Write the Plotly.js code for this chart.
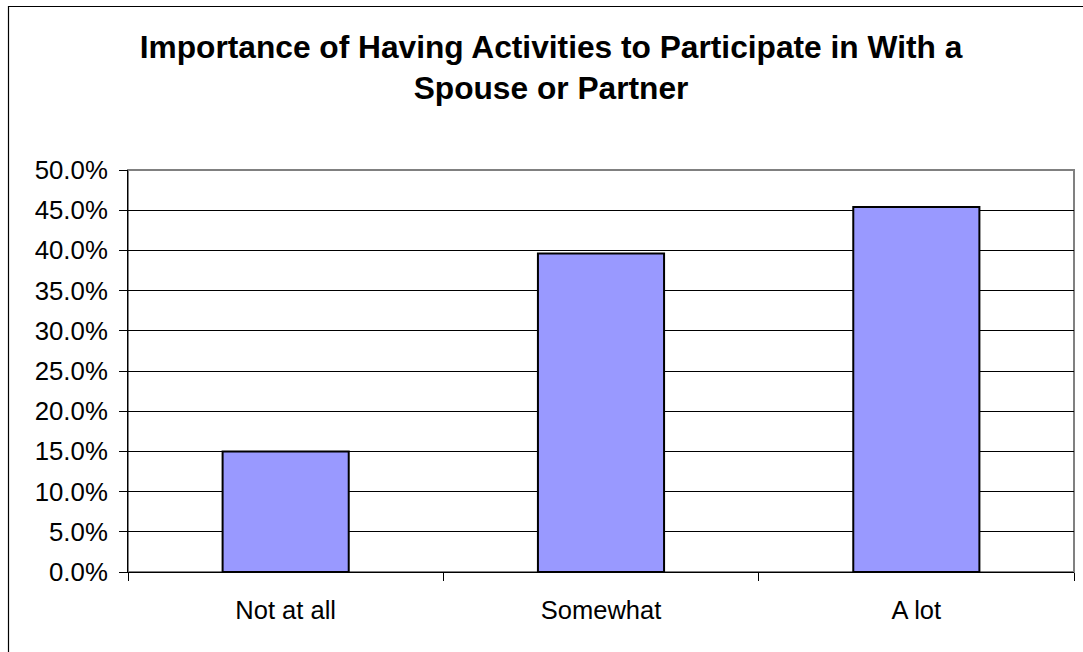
<!DOCTYPE html>
<html>
<head>
<meta charset="utf-8">
<script src="https://cdn.plot.ly/plotly-3.0.1.min.js"></script>
<style>
  html, body { margin: 0; padding: 0; background: #ffffff; }
  #chart { width: 1083px; height: 652px; }
</style>
</head>
<body>
<div id="chart"></div>
<script>
// Survey responses: share of respondents per answer
const categories = ["Not at all", "Somewhat", "A lot"];
const shares = [0.150, 0.396, 0.454];
const chartTitle = "Importance of Having Activities to Participate in With a<br>Spouse or Partner";

const W = 1083, H = 652;
const M = { l: 128, r: 9, t: 170, b: 80 };
const plotW = W - M.l - M.r;
const plotH = H - M.t - M.b;

// convert page pixels to paper coordinates (for the outer frame)
const px = x => (x - M.l) / plotW;
const py = y => (H - M.b - y) / plotH;

const trace = {
  type: "bar",
  x: categories,
  y: shares,
  marker: { color: "#9999FF", line: { color: "#000000", width: 2 } },
  hoverinfo: "x+y"
};

const layout = {
  width: W,
  height: H,
  margin: M,
  paper_bgcolor: "#ffffff",
  plot_bgcolor: "#ffffff",
  font: { family: "Liberation Sans, Arial, sans-serif", color: "#000000", size: 25.5 },
  showlegend: false,
  bargap: 0.6,
  title: {
    text: chartTitle,
    font: { family: "Liberation Sans, Arial, sans-serif", size: 31.7, color: "#000000", weight: "bold" },
    x: 551 / W,
    xanchor: "center",
    xref: "container",
    y: 1 - 58 / H,
    yanchor: "top",
    yref: "container"
  },
  xaxis: {
    type: "category",
    showgrid: false,
    showline: true,
    linecolor: "#000000",
    linewidth: 1,
    ticks: "outside",
    tickson: "boundaries",
    ticklen: 8,
    tickcolor: "#000000",
    tickwidth: 1,
    ticklabelstandoff: 15,
    tickfont: { size: 25.5 }
  },
  yaxis: {
    range: [0, 0.5],
    dtick: 0.05,
    tick0: 0,
    tickformat: ".1%",
    showgrid: true,
    gridcolor: "#000000",
    gridwidth: 1,
    zeroline: false,
    showline: true,
    linecolor: "#000000",
    linewidth: 1,
    ticks: "outside",
    ticklen: 8,
    tickcolor: "#000000",
    tickwidth: 1,
    ticklabelstandoff: 6,
    tickfont: { size: 25.8 }
  },
  shapes: [
    // plot area border (top and right edges show in grey)
    {
      type: "rect", xref: "paper", yref: "paper",
      x0: 0, x1: 1, y0: 0, y1: 1,
      line: { color: "#808080", width: 2 },
      layer: "below"
    },
    // outer chart frame
    {
      type: "rect", xref: "paper", yref: "paper",
      x0: px(8.5), x1: px(1110), y0: py(700), y1: py(6.5),
      line: { color: "#000000", width: 1.2 },
      layer: "above"
    }
  ]
};

Plotly.newPlot("chart", [trace], layout, { displayModeBar: false, staticPlot: true });
</script>
</body>
</html>
